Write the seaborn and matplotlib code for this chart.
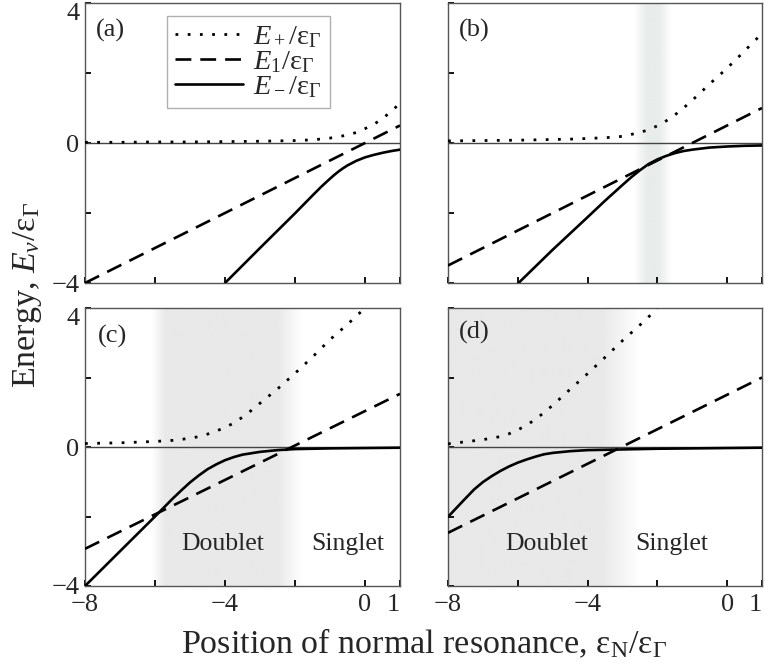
import numpy as np
import matplotlib
matplotlib.use("Agg")
import matplotlib.pyplot as plt
import seaborn as sns
from matplotlib.colors import LinearSegmentedColormap

# ---------------- data ----------------
# panel (a)
a_xp = [-8, -7, -6, -5, -4, -3, -2.5, -2, -1.5, -1, -0.75, -0.5, -0.25, 0, 0.25, 0.5, 0.75, 1]
a_ep = [0.02, 0.02, 0.03, 0.03, 0.04, 0.05, 0.06, 0.07, 0.09, 0.14, 0.18, 0.23, 0.30, 0.41, 0.53, 0.70, 0.90, 1.14]
a_x1 = [-8, 1]
a_e1 = [-4.0, 0.5]
a_xm = [-4, -3, -2, -1.5, -1.25, -1, -0.875, -0.75, -0.625, -0.5, -0.25, 0, 0.25, 0.5, 0.75, 1]
a_em = [-4.0, -3.0, -2.01, -1.50, -1.25, -1.02, -0.91, -0.81, -0.72, -0.64, -0.51, -0.41, -0.34,
        -0.28, -0.23, -0.19]

# panel (b)
b_xp = [-8, -7, -6, -5, -4.5, -4, -3.5, -3, -2.5, -2.25, -2, -1.75, -1.5, -1.25, -1,
        -0.75, -0.5, -0.25, 0, 0.25, 0.5, 0.75, 1]
b_ep = [0.06, 0.07, 0.08, 0.10, 0.11, 0.13, 0.15, 0.19, 0.30, 0.38, 0.49, 0.63, 0.80, 1.00, 1.22,
        1.45, 1.69, 1.91, 2.14, 2.38, 2.63, 2.88, 3.13]
b_x1 = [-8, 1]
b_e1 = [-3.5, 1.0]
b_xm = [-6, -5, -4, -3.5, -3, -2.75, -2.5, -2.25, -2, -1.75, -1.5, -1.25, -1, -0.5, 0, 0.5, 1]
b_em = [-4.02, -3.05, -2.12, -1.65, -1.20, -0.98, -0.78, -0.60, -0.47, -0.37, -0.29, -0.23, -0.19,
        -0.13, -0.10, -0.08, -0.07]

# panel (c)
c_xp = [-8, -7, -6, -5.5, -5, -4.75, -4.5, -4.25, -4, -3.75, -3.5, -3.25, -3, -2.5, -2, -1.5, -1, -0.5, 0]
c_ep = [0.10, 0.12, 0.16, 0.19, 0.25, 0.30, 0.37, 0.46, 0.56, 0.69, 0.86, 1.05, 1.26, 1.67, 2.12,
        2.59, 3.09, 3.53, 4.0]
c_x1 = [-8, 1]
c_e1 = [-2.93, 1.53]
c_xm = [-8, -7, -6, -5.5, -5.25, -5, -4.75, -4.5, -4.25, -4, -3.75, -3.5, -3, -2.5, -2, -1, 0, 1]
c_em = [-4.0, -3.0, -2.0, -1.49, -1.25, -1.02, -0.82, -0.64, -0.50, -0.38, -0.29, -0.22, -0.14,
        -0.09, -0.06, -0.04, -0.03, -0.02]

# panel (d)
d_xp = [-8, -7.5, -7, -6.5, -6.25, -6, -5.75, -5.5, -5.25, -5, -4.5, -4, -3.5, -3, -2.5, -2]
d_ep = [0.09, 0.15, 0.21, 0.30, 0.38, 0.49, 0.63, 0.79, 0.99, 1.20, 1.66, 2.11, 2.58, 3.06, 3.51, 3.98]
d_x1 = [-8, 1]
d_e1 = [-2.47, 2.0]
d_xm = [-8, -7.5, -7.25, -7, -6.75, -6.5, -6.25, -6, -5.75, -5.5, -5.25, -5, -4.5, -4, -3, -2, -1, 0, 1]
d_em = [-2.01, -1.48, -1.22, -1.01, -0.84, -0.69, -0.56, -0.45, -0.36, -0.28, -0.21, -0.17, -0.12,
        -0.09, -0.07, -0.05, -0.04, -0.03, -0.02]

# shaded regions: (fade-in start, full start, full end, fade-out end)
band_b = [-2.65, -2.3, -1.95, -1.6]
band_c = [-6.1, -5.7, -2.5, -1.8]
band_d = [-8.5, -8.2, -3.6, -2.5]

panel_labels = ["(a)", "(b)", "(c)", "(d)"]
region_labels = ["Doublet", "Singlet"]
xtick_vals = [-8, -6, -4, -2, 0, 1]
xtick_text = ["\u22128", "", "\u22124", "", "0", "1"]
ytick_vals = [-4, -2, 0, 2, 4]
ytick_text = ["\u22124", "", "0", "", "4"]

# ---------------- style ----------------
sns.set_theme(style="white")
plt.rcParams["font.family"] = ["Liberation Serif", "DejaVu Serif"]
plt.rcParams["mathtext.fontset"] = "custom"
plt.rcParams["mathtext.rm"] = "Liberation Serif"
plt.rcParams["mathtext.it"] = "Liberation Serif:italic"
plt.rcParams["mathtext.bf"] = "Liberation Serif:bold"

fig = plt.figure(figsize=(7.64, 6.66), dpi=100)
W, H = 764.0, 666.0

def box(l, t, r, b):
    return [l / W, 1 - b / H, (r - l) / W, (b - t) / H]

axes = [
    fig.add_axes(box(85, 3, 400, 283)),
    fig.add_axes(box(448, 3, 762, 283)),
    fig.add_axes(box(85, 308, 400, 586)),
    fig.add_axes(box(448, 308, 762, 586)),
]

panels = [
    (a_xp, a_ep, a_x1, a_e1, a_xm, a_em, None, "#e9e9e9"),
    (b_xp, b_ep, b_x1, b_e1, b_xm, b_em, band_b, "#e8ecea"),
    (c_xp, c_ep, c_x1, c_e1, c_xm, c_em, band_c, "#e9e9e9"),
    (d_xp, d_ep, d_x1, d_e1, d_xm, d_em, band_d, "#e9e9e9"),
]

DOT = (0, (1, 3.4))
DASH = (0, (6, 3.4))
LBL = [r"$E_+/\mathrm{ε}_\Gamma$", r"$E_1/\mathrm{ε}_\Gamma$", r"$E_-/\mathrm{ε}_\Gamma$"]

gx = np.linspace(-8, 1, 1000)
for i, (ax, (xp, ep, x1, e1, xm, em, band, shade)) in enumerate(zip(axes, panels)):
    if band is not None:
        prof = np.interp(gx, band, [0, 1, 1, 0], left=0, right=0)
        cmap = LinearSegmentedColormap.from_list("sh", ["#ffffff", shade])
        ax.imshow(prof[None, :], extent=(-8, 1, -4, 4), aspect="auto", cmap=cmap,
                  vmin=0, vmax=1, zorder=0, interpolation="bilinear")
    ax.axhline(0, color="#444444", lw=1.0, zorder=1)
    lab = LBL if i == 0 else [None, None, None]
    sns.lineplot(x=xp, y=ep, ax=ax, color="black", lw=2.0, linestyle=DOT,
                 sort=False, estimator=None, legend=False, label=lab[0], zorder=3)
    sns.lineplot(x=x1, y=e1, ax=ax, color="black", lw=1.9, linestyle=DASH,
                 sort=False, estimator=None, legend=False, label=lab[1], zorder=3)
    sns.lineplot(x=xm, y=em, ax=ax, color="black", lw=1.9, linestyle="-",
                 sort=False, estimator=None, legend=False, label=lab[2], zorder=3)
    ax.set_xlim(-8, 1)
    ax.set_ylim(-4, 4)
    ax.set_xticks(xtick_vals)
    ax.set_yticks(ytick_vals)
    ax.set_xticklabels(xtick_text if i >= 2 else [""] * len(xtick_vals))
    ax.set_yticklabels(ytick_text if i % 2 == 0 else [""] * len(ytick_vals))
    ax.tick_params(axis="both", which="both", direction="in", length=4, width=1.3,
                   color="black", labelsize=19, top=False, right=False,
                   bottom=True, left=True)
    ax.tick_params(axis="y", pad=4)
    ax.tick_params(axis="x", pad=6)
    if i % 2 == 0:
        ax.get_yticklabels()[-1].set_verticalalignment("top")
    if i >= 2:
        ax.get_xticklabels()[-1].set_horizontalalignment("right")
    for s in ax.spines.values():
        s.set_color("#555555")
        s.set_linewidth(1.0)
    ax.set_xlabel("")
    ax.set_ylabel("")
    ax.set_facecolor("white")

label_pos = [(0.036, 0.901), (0.035, 0.901), (0.040, 0.896), (0.035, 0.912)]
for ax, t, (px, py) in zip(axes, panel_labels, label_pos):
    ax.text(px, py, t, transform=ax.transAxes, ha="left", va="center", fontsize=19, zorder=5)

axes[2].text(-4.07, -2.8, region_labels[0], ha="center", va="center", fontsize=18.5, zorder=5)
axes[2].text(-0.5, -2.8, region_labels[1], ha="center", va="center", fontsize=18.5, zorder=5)
axes[3].text(-5.16, -2.8, region_labels[0], ha="center", va="center", fontsize=18.5, zorder=5)
axes[3].text(-1.58, -2.8, region_labels[1], ha="center", va="center", fontsize=18.5, zorder=5)

handles, labels = axes[0].get_legend_handles_labels()
leg = axes[0].legend(handles, labels, loc="upper left", bbox_to_anchor=(0.259, 0.954),
                     borderaxespad=0, frameon=True, fancybox=False, edgecolor="#b0b0b0",
                     framealpha=1, fontsize=20.5, handlelength=2.4, handletextpad=0.35,
                     labelspacing=-0.04, borderpad=0.3)
leg.get_frame().set_linewidth(1.0)

fig.text(423.5 / W, 1 - 643 / H, r"Position of normal resonance, $\mathrm{ε}_\mathrm{N}/\mathrm{ε}_\Gamma$",
         ha="center", va="center", fontsize=24.5)
fig.text(27 / W, 1 - 295 / H, r"Energy, $E_\nu/\mathrm{ε}_\Gamma$", rotation=90,
         ha="center", va="center", fontsize=24.5)

fig.savefig("out.png", dpi=100)
